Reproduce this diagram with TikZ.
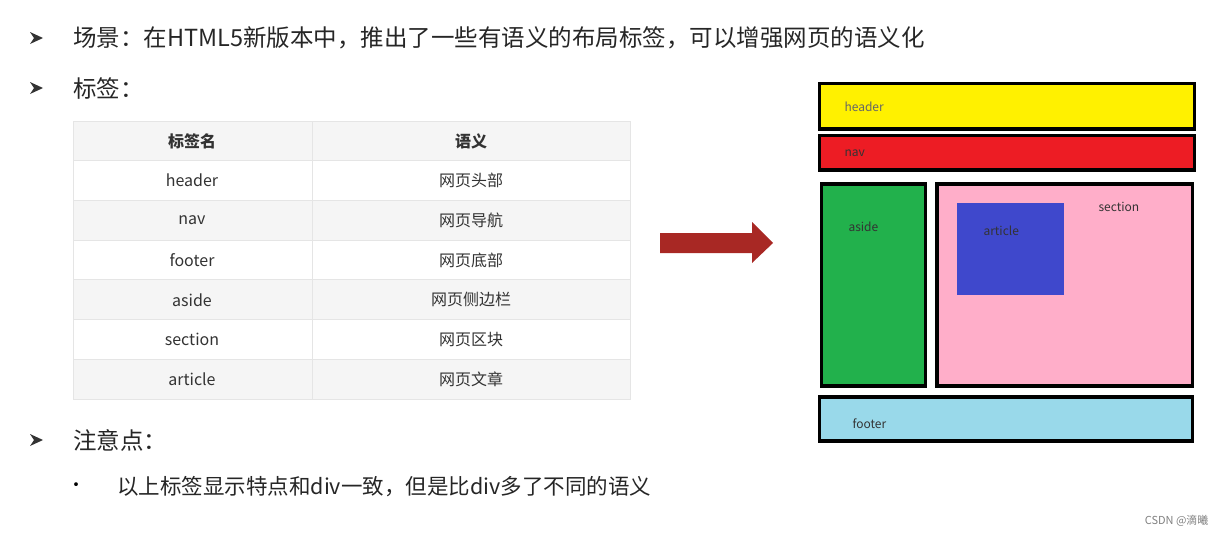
\documentclass[tikz,border=0pt]{standalone}
\usepackage{fontspec}
\setmainfont{Noto Sans CJK SC}
\begin{document}
\begin{tikzpicture}[x=1pt,y=-1pt,
  lay/.style={draw=black,line width=3.5pt},
  lbl/.style={font=\fontsize{12}{14}\selectfont,anchor=west,text=black!80},
  big/.style={font=\fontsize{23.5}{26}\selectfont,anchor=west,text=black!85,inner sep=0pt},
  cell/.style={font=\fontsize{16}{18}\selectfont,text=black!80},
  rowg/.style={fill=black!4,draw=black!10,line width=0.8pt},
  roww/.style={fill=white,draw=black!10,line width=0.8pt}]
\useasboundingbox (0,0) rectangle (1225,536);
% bullets
\foreach \yy in {38,88,440}{
  \fill[black!80] (30,\yy-6) -- (43,\yy) -- (30,\yy+6) -- (34,\yy) -- cycle;
}
\node[big] (t1) at (73,38) {场景：在HTML5新版本中，推出了一些有语义的布局标签，可以增强网页的语义化};
\node[big] (t2) at (73,88) {标签：};
\node[big] (t3) at (73,440) {注意点：};
\node[font=\fontsize{18}{20}\selectfont] (dot) at (76,487) {•};
\node[big,font=\fontsize{21.5}{24}\selectfont] (t4) at (117,487) {以上标签显示特点和div一致，但是比div多了不同的语义};
% table
\foreach \i/\a/\b/\st in {0/{\textbf{标签名}}/{\textbf{语义}}/rowg,1/header/网页头部/roww,2/nav/网页导航/rowg,3/footer/网页底部/roww,4/aside/网页侧边栏/rowg,5/section/网页区块/roww,6/article/网页文章/rowg}{
  \path[\st] (73,121+\i*39.7) rectangle (312,160.7+\i*39.7);
  \path[\st] (312,121+\i*39.7) rectangle (630,160.7+\i*39.7);
  \node[cell] at (192,141+\i*39.7) {\a};
  \node[cell] at (471,141+\i*39.7) {\b};
}
% arrow
\fill[fill={rgb,255:red,168;green,40;blue,36}] (660,233) -- (752,233) -- (752,222) -- (773,243) -- (752,263) -- (752,253) -- (660,253) -- cycle;
% layout
\draw[lay,fill={rgb,255:red,255;green,241;blue,0}] (819.5,83.5) rectangle (1194.5,129);
\node[lbl,text=black!60] (h) at (841,107) {header};
\draw[lay,fill={rgb,255:red,237;green,28;blue,36}] (819.5,135.5) rectangle (1194.5,170);
\node[lbl] (n) at (841,153) {nav};
\draw[lay,fill={rgb,255:red,34;green,177;blue,76}] (821.5,184) rectangle (925.5,386);
\node[lbl] (a) at (845,227) {aside};
\draw[lay,fill={rgb,255:red,255;green,174;blue,201}] (937,184) rectangle (1192.5,386);
\node[lbl] (s) at (1095,207) {section};
\fill[fill={rgb,255:red,63;green,72;blue,204}] (957,203) rectangle (1064,295);
\node[lbl] (ar) at (980,231) {article};
\draw[lay,fill={rgb,255:red,153;green,217;blue,234}] (819.5,397) rectangle (1192.5,441);
\node[lbl] (f) at (849,424) {footer};
\node[font=\fontsize{11}{12}\selectfont,text=black!50,anchor=east] (c) at (1212,521) {CSDN @滴曦};
\end{tikzpicture}
\end{document}
